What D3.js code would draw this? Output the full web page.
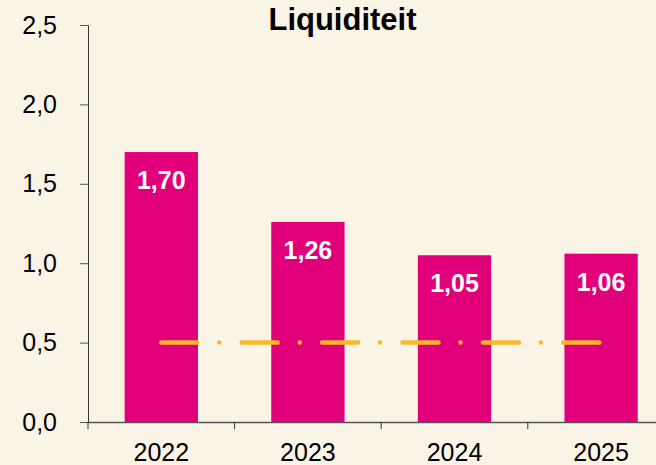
<!DOCTYPE html>
<html>
<head>
<meta charset="utf-8">
<script src="https://cdn.jsdelivr.net/npm/d3@7"></script>
<style>
  html, body { margin: 0; padding: 0; background: #faf4e7; }
  svg { display: block; font-family: "Liberation Sans", Arial, sans-serif; }
</style>
</head>
<body>
<svg id="chart"></svg>
<script>
// chart data
const years = ["2022", "2023", "2024", "2025"];
const liquidity = [1.70, 1.26, 1.05, 1.06];
const norm = [0.5, 0.5, 0.5, 0.5];
const yTicks = [0, 0.5, 1.0, 1.5, 2.0, 2.5];
const title = "Liquiditeit";

const width = 656;
const height = 465;
const fmt = v => d3.format(".1f")(v).replace(".", ",");
const fmt2 = v => d3.format(".2f")(v).replace(".", ",");

let svg = d3.select('#chart')
            .attr('width', width)
            .attr('height', height);

svg.append('rect')
   .attr('width', width)
   .attr('height', height)
   .attr('fill', '#faf4e7');

// one band per year, bars take the middle half of each band
let x = d3.scaleBand()
          .domain(years)
          .range([88, 674.4])
          .padding(0);

let y = d3.scaleLinear()
          .domain([0, 2.5])
          .range([422, 25]);

// bars
svg.append('g')
   .selectAll('rect')
   .data(liquidity)
   .enter()
   .append('rect')
   .attr('x', (d, i) => x(years[i]) + x.bandwidth() * 0.25)
   .attr('width', x.bandwidth() * 0.5)
   .attr('y', d => y(d))
   .attr('height', d => y(0) - y(d))
   .attr('fill', '#e2007a');

// value labels inside bars
svg.append('g')
   .selectAll('text')
   .data(liquidity)
   .enter()
   .append('text')
   .attr('x', (d, i) => x(years[i]) + x.bandwidth() / 2)
   .attr('y', d => y(d) + 37)
   .attr('text-anchor', 'middle')
   .attr('fill', '#ffffff')
   .attr('font-weight', 'bold')
   .attr('font-size', '25px')
   .text(d => fmt2(d));

// norm line (dash-dot)
let line = d3.line()
             .x((d, i) => x(years[i]) + x.bandwidth() / 2)
             .y(d => y(d));

svg.append('path')
   .datum(norm)
   .attr('d', line)
   .attr('fill', 'none')
   .attr('stroke', '#f9b92a')
   .attr('stroke-width', 4.5)
   .attr('stroke-linecap', 'round')
   .attr('stroke-dasharray', '36,22,0,22.4');

// y axis
let yAxis = svg.append('g')
               .attr('transform', 'translate(88,0)')
               .call(d3.axisLeft(y)
                       .tickValues(yTicks)
                       .tickFormat(fmt)
                       .tickSize(8)
                       .tickPadding(23));
yAxis.select('.domain').attr('stroke', '#333');
yAxis.selectAll('.tick line').attr('stroke', '#555');
yAxis.selectAll('text')
     .attr('font-family', '"Liberation Sans", Arial, sans-serif')
     .attr('font-size', '25px')
     .attr('fill', '#000');

// x axis: labels at band centres, ticks at band boundaries
let xAxis = svg.append('g')
               .attr('transform', `translate(0,${y(0)})`)
               .call(d3.axisBottom(x)
                       .tickSize(0)
                       .tickSizeOuter(0)
                       .tickPadding(21));
xAxis.select('.domain').attr('stroke', '#555').attr('stroke-width', 1.5);
xAxis.selectAll('text')
     .attr('font-family', '"Liberation Sans", Arial, sans-serif')
     .attr('font-size', '25px')
     .attr('fill', '#000');

xAxis.selectAll('.boundary')
     .data(years)
     .enter()
     .append('line')
     .attr('class', 'boundary')
     .attr('x1', d => x(d))
     .attr('x2', d => x(d))
     .attr('y1', 0)
     .attr('y2', 7)
     .attr('stroke', '#333');

// title
svg.append('text')
   .attr('x', 342.5)
   .attr('y', 30)
   .attr('text-anchor', 'middle')
   .attr('font-weight', 'bold')
   .attr('font-size', '31px')
   .attr('fill', '#000')
   .text(title);
</script>
</body>
</html>
